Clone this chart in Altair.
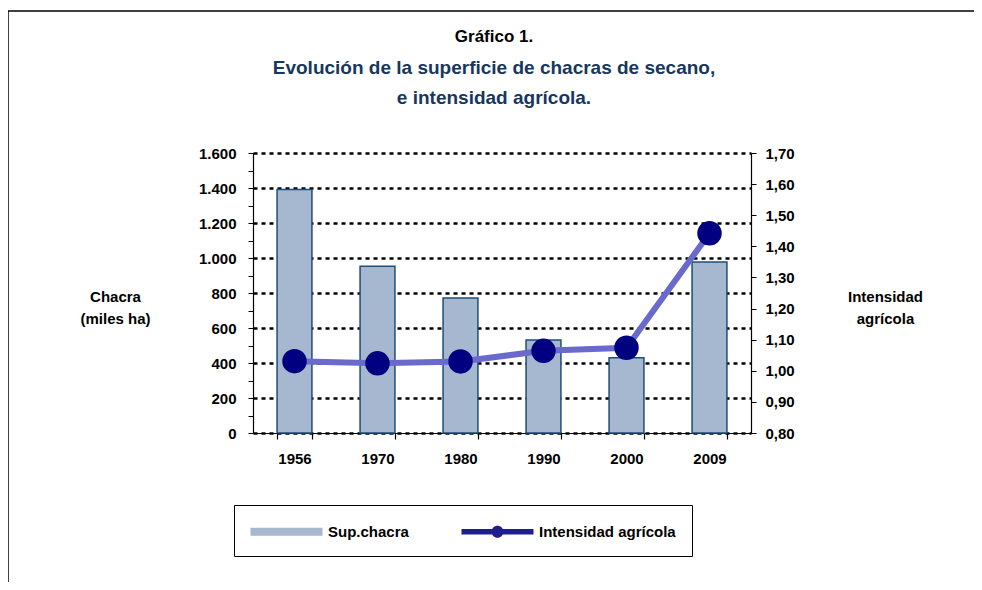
import altair as alt
import pandas as pd

# ---- data ----
years = ["1956", "1970", "1980", "1990", "2000", "2009"]
chacra = [1392, 953, 771, 531, 430, 977]            # miles ha
intensidad = [1.031, 1.024, 1.030, 1.064, 1.074, 1.442]
series = ["Sup.chacra", "Intensidad agrícola"]
left_ticks = list(range(0, 1601, 100))
right_ticks = [0.8, 0.9, 1.0, 1.1, 1.2, 1.3, 1.4, 1.5, 1.6, 1.7]

df = pd.DataFrame({"year": years, "chacra": chacra, "intensidad": intensidad})
legend_df = pd.DataFrame({"year": years[:2], "serie": series, "intensidad": [1.0, 1.0]})
frame_df = pd.DataFrame({"k": [0]})

FONT = "Liberation Sans"
BAR_FILL = "#A6B8CF"
BAR_STROKE = "#1F4E79"
LINE_COLOR = "#6A6ACC"
DOT_COLOR = "#000080"

x_enc = alt.X(
    "year:N",
    sort=years,
    scale=alt.Scale(paddingInner=0.58, paddingOuter=0.29),
    axis=alt.Axis(
        title=None, labelAngle=0, tickBand="extent", tickSize=6,
        labelPadding=12, labelFontSize=15, labelFontWeight="bold",
        labelColor="black", domainColor="black", tickColor="black",
        domainWidth=1.2, tickWidth=1.2,
    ),
)

bars = alt.Chart(df).mark_bar(
    fill=BAR_FILL, stroke=BAR_STROKE, strokeWidth=1.5
).encode(
    x=x_enc,
    y=alt.Y(
        "chacra:Q",
        scale=alt.Scale(domain=[0, 1600], nice=False),
        axis=alt.Axis(
            values=left_ticks,
            labelExpr="datum.value % 200 == 0 ? replace(format(datum.value, ','), ',', '.') : ''",
            labelOverlap=False, labelFontSize=15, labelFontWeight="bold",
            labelColor="black", labelPadding=12, tickSize=5,
            tickColor="black", domainColor="black", domainWidth=1.2,
            grid=True, gridColor="black", gridWidth=2.5, gridDash=[4, 4],
            gridOpacity={"condition": {"test": "datum.value % 200 != 0", "value": 0}, "value": 1},
            title=["Chacra", "(miles ha)"], titleAngle=0, titleAlign="center",
            titleBaseline="middle", titleX=-138, titleY=143, titleFontSize=15,
            titleFontWeight="bold", titleColor="black", titleLineHeight=22,
        ),
    ),
)

y_right = alt.Y(
    "intensidad:Q",
    scale=alt.Scale(domain=[0.8, 1.7], nice=False, zero=False),
    axis=alt.Axis(
        orient="right", values=right_ticks,
        labelExpr="replace(format(datum.value, '.2f'), '.', ',')",
        labelOverlap=False, labelFontSize=15, labelFontWeight="bold",
        labelColor="black", labelPadding=9, tickSize=5,
        tickColor="black", domainColor="black", domainWidth=1.2, grid=False,
        title=["Intensidad", "agrícola"], titleAngle=0, titleAlign="center",
        titleBaseline="middle", titleX=134, titleY=143, titleFontSize=15,
        titleFontWeight="bold", titleColor="black", titleLineHeight=22,
    ),
)

line = alt.Chart(df).mark_line(color=LINE_COLOR, strokeWidth=6).encode(
    x=x_enc, y=y_right
)
dots = alt.Chart(df).mark_circle(color=DOT_COLOR, size=600, opacity=1).encode(
    x=x_enc, y=y_right
)

bar_swatch = "M-1,-0.4H6.2V0.4H-1Z"
line_swatch = "M-1,-0.28H6.2V0.28H-1Z M2.0,0 A0.6,0.6 0 1,1 3.2,0 A0.6,0.6 0 1,1 2.0,0 Z"

leg = alt.Legend(
    title=None, orient="none", legendX=-19, legendY=352,
    direction="horizontal", columns=2, columnPadding=50,
    labelOffset=57, labelFontSize=15, labelFontWeight="bold",
    labelColor="black", symbolSize=400, symbolOpacity=1,
    symbolStrokeColor=BAR_STROKE, symbolStrokeWidth=1,
    strokeColor="black", padding=16, labelLimit=300,
)

legend_pts = alt.Chart(legend_df).mark_point(filled=True, opacity=0).encode(
    x=x_enc,
    y=y_right,
    color=alt.Color("serie:N", scale=alt.Scale(domain=series, range=[BAR_FILL, "#1E1E8E"]), legend=leg),
    shape=alt.Shape("serie:N", scale=alt.Scale(domain=series, range=[bar_swatch, line_swatch]), legend=leg),
)

frame_top = alt.Chart(frame_df).mark_rule(color="black", strokeWidth=1.5).encode(
    x=alt.value(-245), x2=alt.value(740), y=alt.value(-142)
)
frame_left = alt.Chart(frame_df).mark_rule(color="black", strokeWidth=1.5).encode(
    x=alt.value(-245), y=alt.value(-142), y2=alt.value(440)
)

right_layer = alt.layer(line, dots, legend_pts)

chart = alt.layer(bars, right_layer, frame_top, frame_left).resolve_scale(
    y="independent"
).properties(
    width=498,
    height=280,
    autosize=alt.AutoSizeParams(type="none"),
    padding={"left": 245, "top": 145, "right": 223, "bottom": 149},
    title=alt.TitleParams(
        text="Gráfico 1.",
        subtitle=["Evolución de la superficie de chacras de secano,", "e intensidad agrícola."],
        font=FONT, fontSize=17, fontWeight="bold", color="black",
        subtitleFont=FONT, subtitleFontSize=19, subtitleFontWeight="bold",
        subtitleColor="#17375E", subtitleLineHeight=30, subtitlePadding=13,
        anchor="middle", offset=40, dx=-8, dy=139,
    ),
).configure(
    font=FONT
).configure_view(
    stroke=None
)

chart.save("out.html", embed_options={"renderer": "svg", "actions": False})
